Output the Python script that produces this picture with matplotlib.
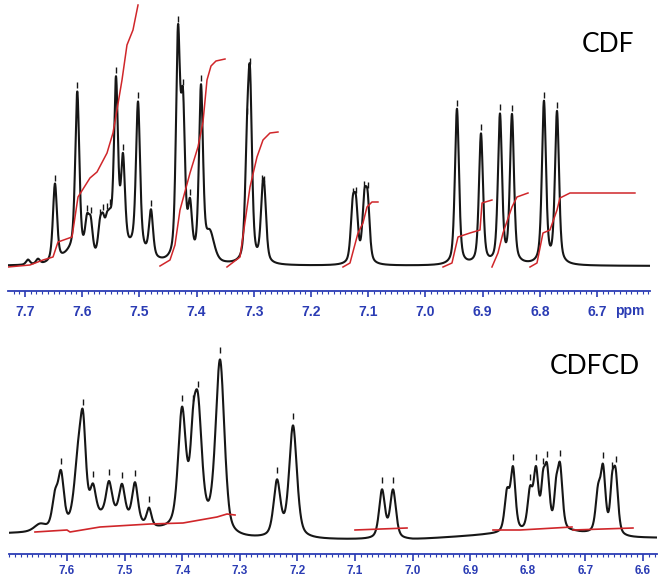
import numpy as np
import matplotlib
matplotlib.use("Agg")
import matplotlib.pyplot as plt
from matplotlib.ticker import FixedLocator, MultipleLocator
import matplotlib.transforms as mtransforms

# ---------------- data: CDF (top spectrum) ----------------
cdf_peak_ppm = [7.6948, 7.6773, 7.6476, 7.6086, 7.5916, 7.5851, 7.5689, 7.5636,
                7.5566, 7.5514, 7.5462, 7.5409, 7.5287, 7.5024, 7.4797, 7.4325,
                7.4238, 7.4115, 7.3923, 7.3766, 7.3119, 7.3066, 7.2848, 7.2813,
                7.1271, 7.1213, 7.1068, 7.1009, 6.9448, 6.9028, 6.8696, 6.8486,
                6.7927, 6.7699, 7.6150, 7.5100]
cdf_peak_height = [5, 5, 78, 160, 32, 32, 28, 28,
                   26, 24, 5, 172, 90, 147, 46, 220,
                   145, 50, 172, 28, 88, 165, 48, 48,
                   51, 51, 56, 56, 156, 130, 148, 148,
                   162, 152, 12, 14]
cdf_peak_hwhm = [0.004, 0.004, 0.0042, 0.0042, 0.0042, 0.0042, 0.0042, 0.0042,
                 0.0042, 0.0042, 0.0042, 0.0042, 0.0042, 0.0042, 0.0042, 0.0042,
                 0.0042, 0.0042, 0.0042, 0.009, 0.0042, 0.0042, 0.0042, 0.0042,
                 0.0042, 0.0042, 0.0042, 0.0042, 0.0042, 0.0042, 0.0042, 0.0042,
                 0.0042, 0.0042, 0.020, 0.025]
cdf_baseline = 25
cdf_marks = [7.6476, 7.6086, 7.5916, 7.5851, 7.5689, 7.5636, 7.5566, 7.5514,
             7.5409, 7.5287, 7.5024, 7.4797, 7.4325, 7.4238, 7.4115, 7.3923,
             7.3119, 7.3066, 7.2848, 7.2813, 7.1271, 7.1213, 7.1068, 7.1009,
             6.9448, 6.9028, 6.8696, 6.8486, 6.7927, 6.7699]

# integral traces (red) of the top spectrum
cdf_int1_ppm = [7.7297, 7.6913, 7.6685, 7.6510, 7.6423, 7.6178, 7.6073, 7.5864,
                7.5741, 7.5566, 7.5462, 7.5392, 7.5304, 7.5217, 7.5112, 7.5024]
cdf_int1_val = [24, 26, 31, 34, 49, 54, 94, 113, 119, 138, 158, 181, 211, 246, 261, 286]
cdf_int2_ppm = [7.4640, 7.4465, 7.4378, 7.4290, 7.4115, 7.3976, 7.3888, 7.3818,
                7.3748, 7.3661, 7.3503]
cdf_int2_val = [25, 31, 46, 81, 118, 144, 169, 211, 225, 230, 232]
cdf_int3_ppm = [7.3469, 7.3241, 7.3066, 7.2944, 7.2839, 7.2717, 7.2577]
cdf_int3_val = [24, 34, 104, 134, 151, 158, 159]
cdf_int4_ppm = [7.1441, 7.1318, 7.1178, 7.1091, 7.1021, 7.0934, 7.0829]
cdf_int4_val = [24, 28, 58, 68, 84, 89, 89]
cdf_int5_ppm = [6.9692, 6.9535, 6.9430, 6.9220, 6.9045, 6.9010, 6.8836]
cdf_int5_val = [24, 28, 54, 58, 61, 88, 91]
cdf_int6_ppm = [6.8836, 6.8731, 6.8643, 6.8486, 6.8399, 6.8206]
cdf_int6_val = [24, 38, 58, 84, 94, 98]
cdf_int7_ppm = [6.8171, 6.8049, 6.7944, 6.7822, 6.7699, 6.7647, 6.7472, 6.6336]
cdf_int7_val = [24, 28, 58, 61, 81, 93, 98, 98]

top_ticks = [7.7, 7.6, 7.5, 7.4, 7.3, 7.2, 7.1, 7.0, 6.9, 6.8, 6.7]
top_tick_labels = ["7.7", "7.6", "7.5", "7.4", "7.3", "7.2", "7.1", "7.0", "6.9", "6.8", "6.7"]

# ---------------- data: CDFCD (bottom spectrum) ----------------
cdfcd_peak_ppm = [7.6470, 7.6208, 7.6104, 7.5809, 7.5722, 7.5549, 7.5271, 7.5045,
                  7.4819, 7.4576, 7.5250, 7.4003, 7.3812, 7.3726, 7.3344, 7.2354,
                  7.2076, 7.0531, 7.0340, 6.8361, 6.8257, 6.7962, 6.7858, 6.7736,
                  6.7667, 6.7510, 6.7441, 6.6781, 6.6694, 6.6538, 6.6476]
cdfcd_peak_height = [7, 30, 52, 60, 86, 30, 32, 32,
                     40, 18, 16, 116, 60, 112, 168, 55,
                     112, 48, 48, 38, 62, 38, 58, 38,
                     58, 32, 62, 38, 62, 38, 58]
cdfcd_peak_hwhm = [0.012, 0.006, 0.006, 0.008, 0.006, 0.006, 0.006, 0.006,
                   0.006, 0.005, 0.040, 0.008, 0.006, 0.008, 0.009, 0.007,
                   0.008, 0.006, 0.006, 0.005, 0.005, 0.005, 0.005, 0.004,
                   0.005, 0.004, 0.005, 0.005, 0.005, 0.004, 0.005]
cdfcd_base_ppm = [7.701, 7.45, 7.33, 7.318, 7.00, 6.87, 6.72, 6.64, 6.576]
cdfcd_base_val = [20, 21, 22, 14, 14, 19, 21, 16, 16]
cdfcd_marks = [7.6104, 7.5722, 7.5549, 7.5271, 7.5045, 7.4819, 7.4576, 7.4003,
               7.3812, 7.3726, 7.3344, 7.2354, 7.2076, 7.0531, 7.0340, 6.8257,
               6.7962, 6.7858, 6.7736, 6.7667, 6.7441, 6.6694, 6.6538, 6.6476]

cdfcd_int1_ppm = [7.6556, 7.6000, 7.5948, 7.5427, 7.4559, 7.3986, 7.3396, 7.3222, 7.3083]
cdfcd_int1_val = [22, 24, 22, 27, 30, 31, 37, 40, 39]
cdfcd_int2_ppm = [7.1000, 7.0097]
cdfcd_int2_val = [24, 26]
cdfcd_int3_ppm = [6.8604, 6.8135, 6.7233]
cdfcd_int3_val = [24, 24, 27]
cdfcd_int4_ppm = [6.7215, 6.6174]
cdfcd_int4_val = [24, 26]

bot_ticks = [7.6, 7.5, 7.4, 7.3, 7.2, 7.1, 7.0, 6.9, 6.8, 6.7, 6.6]
bot_tick_labels = ["7.6", "7.5", "7.4", "7.3", "7.2", "7.1", "7.0", "6.9", "6.8", "6.7", "6.6"]

# ---------------- drawing ----------------
BLUE = "#2b3cb4"
BLACK = "#161616"
RED = "#d0262a"
W, H = 667, 582

def lorentz(x, x0, h, g):
    return h / (1.0 + ((x - x0) / g) ** 2)

def pvoigt(x, x0, h, g, eta=0.5):
    gauss = h * np.exp(-np.log(2) * ((x - x0) / g) ** 2)
    return eta * lorentz(x, x0, h, g) + (1 - eta) * gauss

fig = plt.figure(figsize=(W / 100, H / 100), dpi=100)

def px_axes(left, right, top, bottom):
    return fig.add_axes([left / W, 1 - bottom / H, (right - left) / W, (bottom - top) / H])

def style_ruler(ax, ticks, labels, maj_len, min_len, fs, pad):
    for s in ("top", "left", "right"):
        ax.spines[s].set_visible(False)
    ax.spines["bottom"].set_color(BLUE)
    ax.spines["bottom"].set_linewidth(1.3)
    ax.set_yticks([])
    ax.xaxis.set_major_locator(FixedLocator(ticks))
    ax.set_xticklabels(labels, fontsize=fs, fontweight="bold", color=BLUE,
                       fontfamily="Liberation Sans")
    ax.xaxis.set_minor_locator(MultipleLocator(0.01))
    ax.tick_params(axis="x", which="major", direction="out", length=maj_len,
                   width=1.2, color=BLUE, pad=pad)
    ax.tick_params(axis="x", which="minor", direction="out", length=min_len,
                   width=0.8, color=BLUE)
    ax.patch.set_alpha(0)

# ---- top panel ----
ax1 = px_axes(8, 650, 0, 291)
x1 = np.linspace(7.7297, 6.6073, 6000)
y1 = np.full_like(x1, float(cdf_baseline))
for p, h, g in zip(cdf_peak_ppm, cdf_peak_height, cdf_peak_hwhm):
    y1 += pvoigt(x1, p, h, g, 0.5)
ax1.plot(x1, y1, color=BLACK, lw=1.5, solid_joinstyle="round", zorder=3)
for xs, ys in [(cdf_int1_ppm, cdf_int1_val), (cdf_int2_ppm, cdf_int2_val),
               (cdf_int3_ppm, cdf_int3_val), (cdf_int4_ppm, cdf_int4_val),
               (cdf_int5_ppm, cdf_int5_val), (cdf_int6_ppm, cdf_int6_val),
               (cdf_int7_ppm, cdf_int7_val)]:
    ax1.plot(xs, ys, color=RED, lw=1.1, zorder=4)
mk1 = np.interp(cdf_marks, x1[::-1], y1[::-1]) + 6
ax1.plot(cdf_marks, mk1, ls="none", marker="|", ms=4.5, mew=1.0, color=BLACK, zorder=5)
ax1.set_xlim(7.7297, 6.6073)
ax1.set_ylim(0, 291)
style_ruler(ax1, top_ticks, top_tick_labels, 4, 2.2, 10, 6)
ax1.text(6.6423, -0.068, "ppm", transform=mtransforms.blended_transform_factory(ax1.transData, ax1.transAxes),
         ha="center", va="center", fontsize=10, fontweight="bold", color=BLUE,
         fontfamily="Liberation Sans")

# ---- bottom panel ----
ax2 = px_axes(9, 657, 320, 554)
x2 = np.linspace(7.7007, 6.5757, 6000)
y2 = np.interp(x2, cdfcd_base_ppm[::-1], cdfcd_base_val[::-1])
for p, h, g in zip(cdfcd_peak_ppm, cdfcd_peak_height, cdfcd_peak_hwhm):
    y2 = y2 + pvoigt(x2, p, h, g)
ax2.plot(x2, y2, color=BLACK, lw=1.5, zorder=3)
for xs, ys in [(cdfcd_int1_ppm, cdfcd_int1_val), (cdfcd_int2_ppm, cdfcd_int2_val),
               (cdfcd_int3_ppm, cdfcd_int3_val), (cdfcd_int4_ppm, cdfcd_int4_val)]:
    ax2.plot(xs, ys, color=RED, lw=1.2, zorder=4)
mk2 = np.interp(cdfcd_marks, x2[::-1], y2[::-1]) + 9
ax2.plot(cdfcd_marks, mk2, ls="none", marker="|", ms=4.5, mew=1.0, color=BLACK, zorder=5)
ax2.set_xlim(7.7007, 6.5757)
ax2.set_ylim(0, 234)
style_ruler(ax2, bot_ticks, bot_tick_labels, 5, 2.5, 8.5, 3)

# ---- labels ----
fig.text(608 / W, 1 - 45 / H, "CDF", fontsize=19, fontfamily="Lato", ha="center", va="center")
fig.text(595 / W, 1 - 367 / H, "CDFCD", fontsize=19, fontfamily="Lato", ha="center", va="center")

fig.savefig("out.png", dpi=100)
